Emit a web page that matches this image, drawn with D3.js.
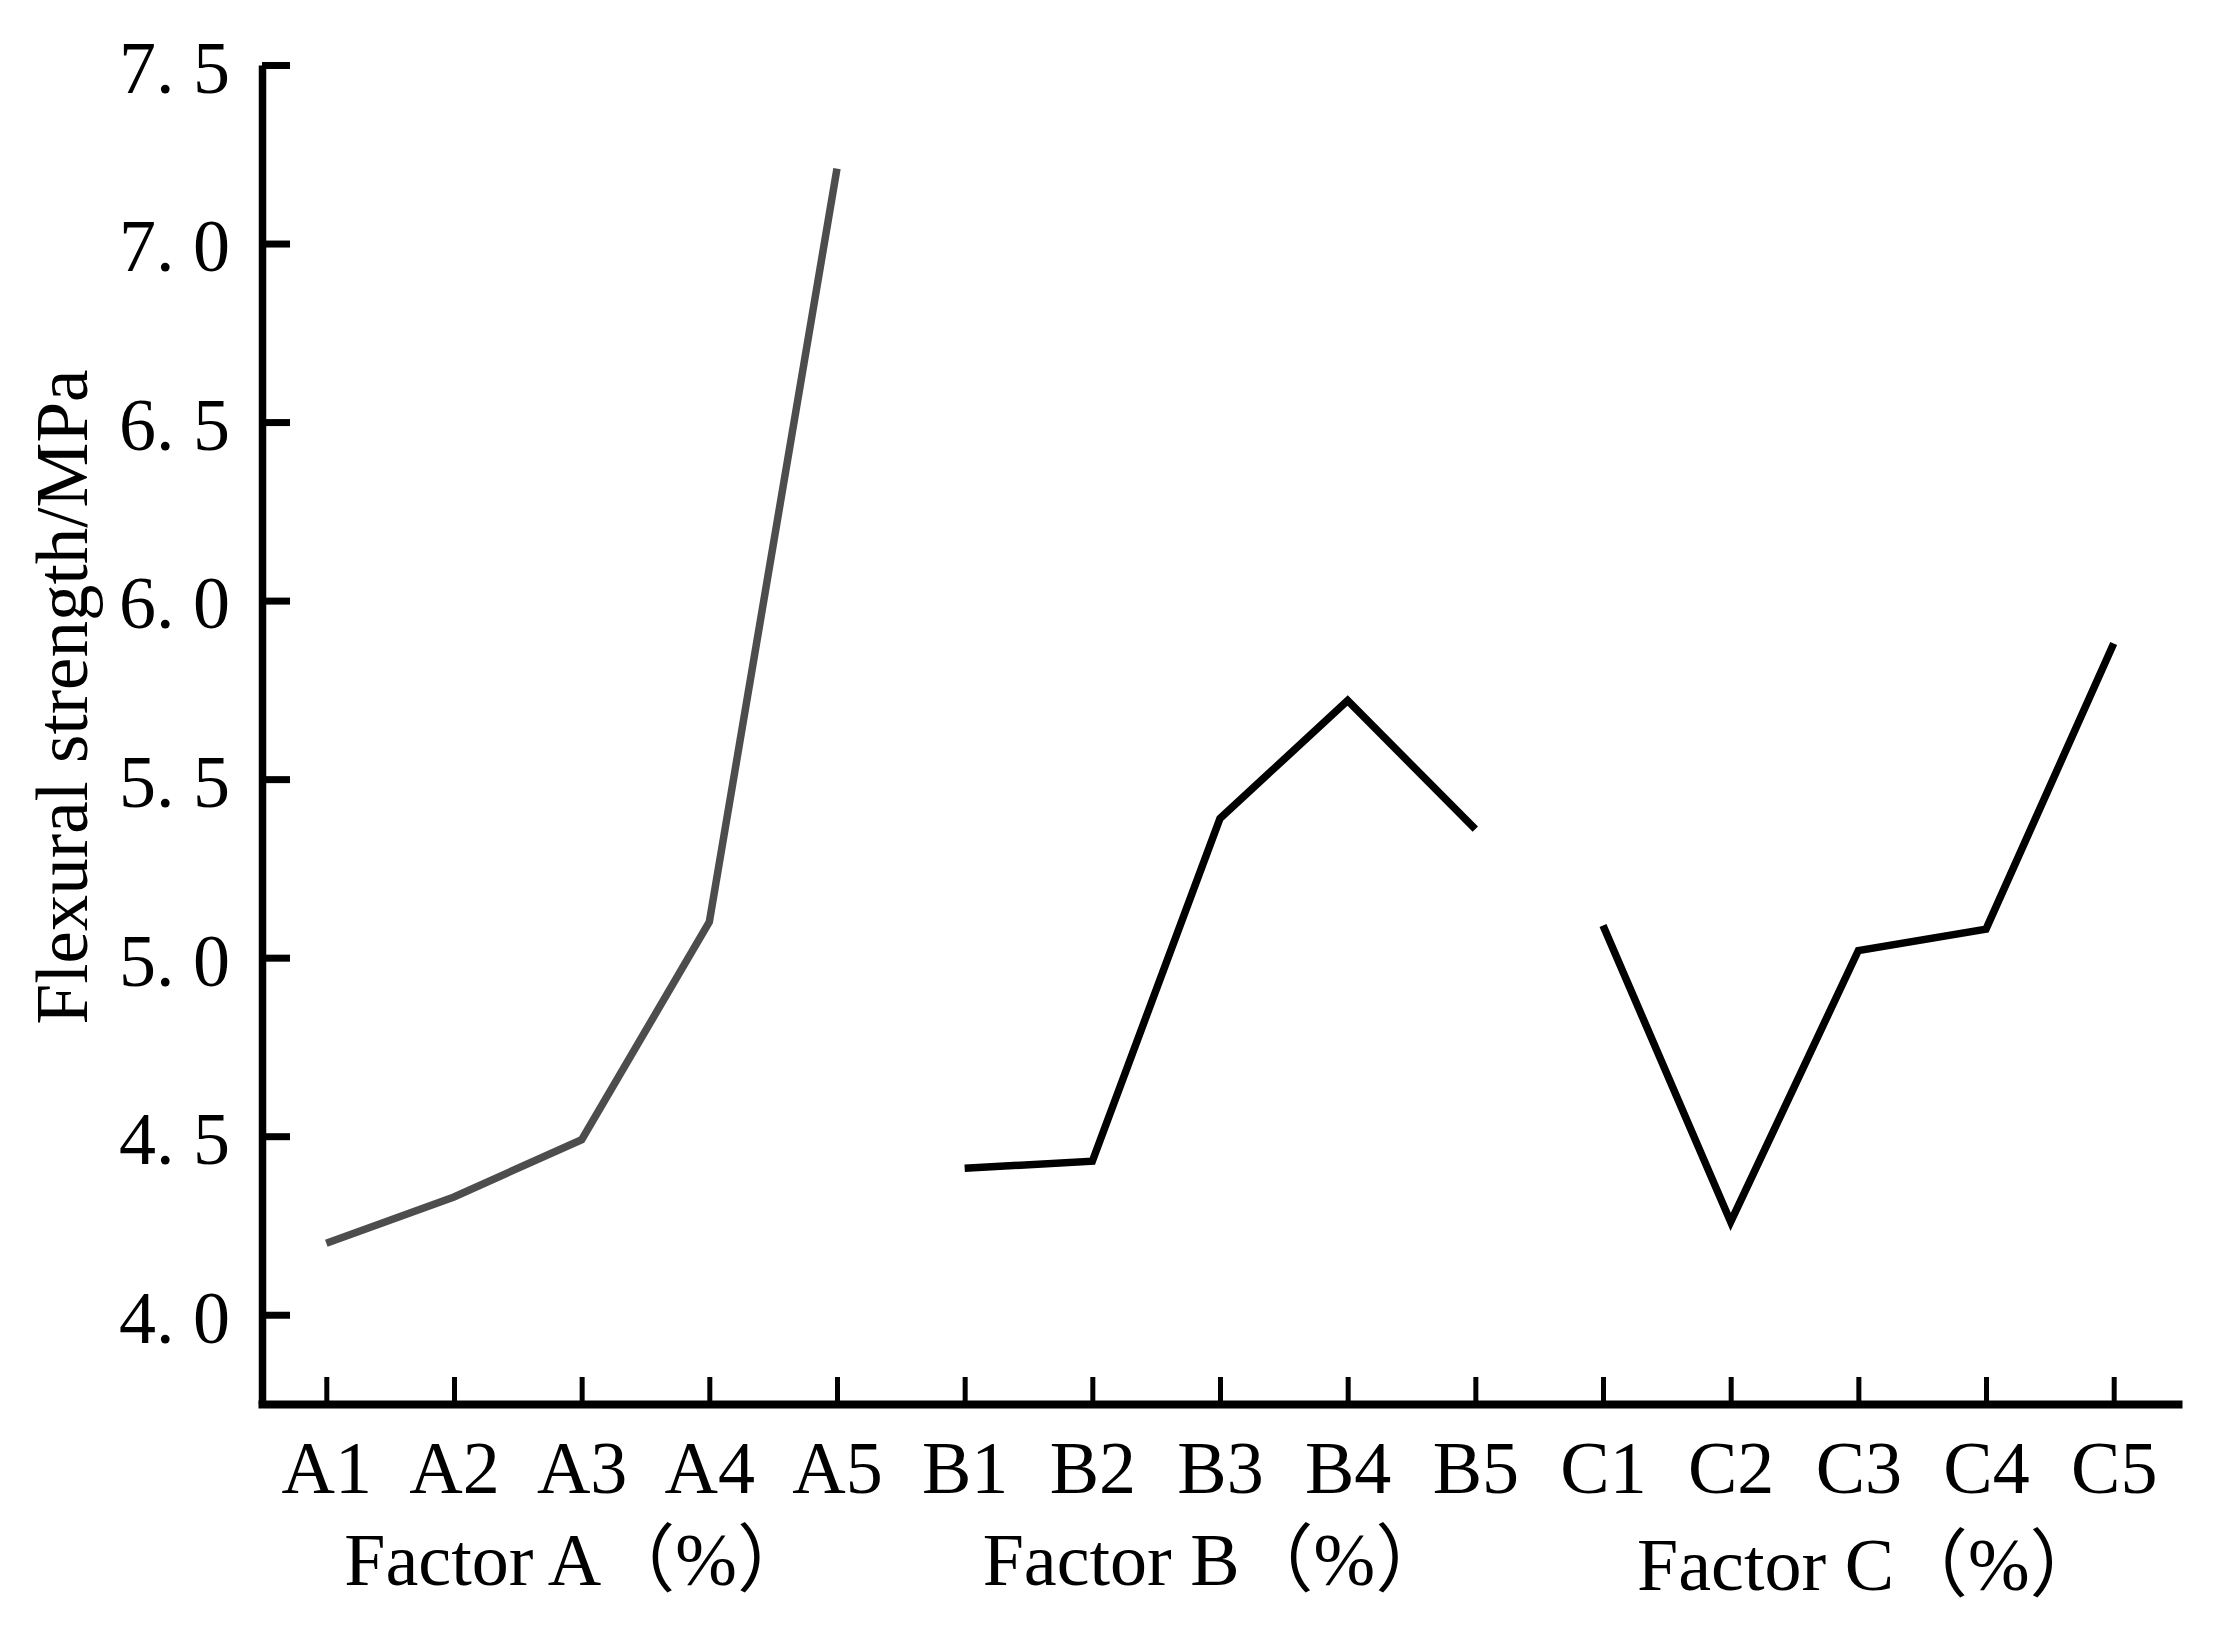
<!DOCTYPE html>
<html>
<head>
<meta charset="utf-8">
<script src="https://cdn.jsdelivr.net/npm/d3@7"></script>
<style>
  html, body { margin: 0; padding: 0; background: #fff; }
  text { font-family: "Liberation Serif", "Noto Sans CJK SC", serif; fill: #000; }
</style>
</head>
<body>
<svg></svg>
<script>
// Data
const categoriesA = ["A1", "A2", "A3", "A4", "A5"];
const categoriesB = ["B1", "B2", "B3", "B4", "B5"];
const categoriesC = ["C1", "C2", "C3", "C4", "C5"];
const valuesA = [4.20, 4.33, 4.49, 5.10, 7.21];
const valuesB = [4.41, 4.43, 5.39, 5.72, 5.36];
const valuesC = [5.09, 4.26, 5.02, 5.08, 5.88];
const yTicks = [4.0, 4.5, 5.0, 5.5, 6.0, 6.5, 7.0, 7.5];
const groupLabels = ["Factor A（%）", "Factor B（%）", "Factor C（%）"];
const yTitle = "Flexural strength/MPa";

const W = 2239, H = 1632;
const svg = d3.select("svg").attr("width", W).attr("height", H);

svg.append("rect").attr("width", W).attr("height", H).attr("fill", "#fff");

const allCats = categoriesA.concat(categoriesB, categoriesC);

// Scales
const x = d3.scalePoint()
  .domain(allCats)
  .range([258, 2182])
  .padding(0.535);

const y = d3.scaleLinear()
  .domain([3.75, 7.5])
  .range([1404, 65]);

// x axis (ticks point up, labels below)
const xAxis = svg.append("g")
  .attr("transform", "translate(0,1404)")
  .call(d3.axisBottom(x).tickSize(-27).tickSizeOuter(0).tickPadding(36));
xAxis.select(".domain").attr("stroke", "#000").attr("stroke-width", 8);
xAxis.selectAll(".tick line").attr("stroke", "#000").attr("stroke-width", 5);
xAxis.selectAll(".tick text").style("font-size", "74px");

// y axis (ticks point right, labels left)
const yAxis = svg.append("g")
  .attr("transform", "translate(262,0)")
  .call(d3.axisLeft(y)
    .tickValues(yTicks)
    .tickSize(-28)
    .tickSizeOuter(0)
    .tickPadding(32)
    .tickFormat(d => d3.format(".1f")(d).replace(".", ". ")));
yAxis.select(".domain").attr("stroke", "#000").attr("stroke-width", 7.5);
yAxis.selectAll(".tick line").attr("stroke", "#000").attr("stroke-width", 7);
yAxis.selectAll(".tick text")
  .style("font-size", "74px")
  .style("white-space", "pre")
  .attr("dy", "0.37em");
svg.selectAll(".tick text").attr("fill", "#000");
svg.selectAll("g").attr("font-family", null).attr("font-size", null);

// Lines
const line = d3.line()
  .x(d => x(d.cat))
  .y(d => y(d.value));

const series = [
  { cats: categoriesA, values: valuesA, color: "#4d4d4d" },
  { cats: categoriesB, values: valuesB, color: "#000000" },
  { cats: categoriesC, values: valuesC, color: "#000000" }
];

svg.selectAll(".series")
  .data(series)
  .enter()
  .append("path")
  .attr("class", "series")
  .attr("fill", "none")
  .attr("stroke", d => d.color)
  .attr("stroke-width", 7.5)
  .attr("stroke-linejoin", "miter")
  .attr("stroke-linecap", "butt")
  .attr("d", d => line(d.cats.map((c, i) => ({ cat: c, value: d.values[i] }))));

// Group labels under the tick labels
svg.selectAll(".group-label")
  .data(series)
  .enter()
  .append("text")
  .attr("class", "group-label")
  .attr("x", (d, i) => x(d.cats[2]) + (i === 2 ? 12 : -4))
  .attr("y", (d, i) => i === 2 ? 1590 : 1585)
  .attr("text-anchor", "middle")
  .style("font-size", "74px")
  .text((d, i) => groupLabels[i]);

// Y axis title
svg.append("text")
  .attr("transform", "translate(87,697) rotate(-90)")
  .attr("text-anchor", "middle")
  .style("font-size", "73px")
  .text(yTitle);
</script>
</body>
</html>
